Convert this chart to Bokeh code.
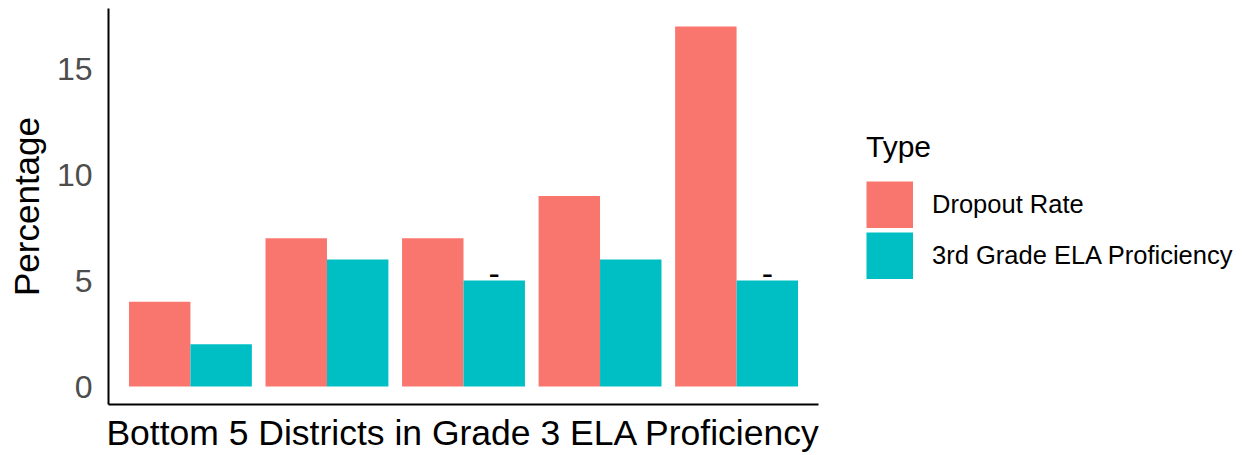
from bokeh.plotting import figure
from bokeh.layouts import row
from bokeh.models import (ColumnDataSource, FactorRange, Range1d, Legend, LegendItem,
                          FixedTicker)
from bokeh.transform import dodge
from bokeh.core.properties import value
from bokeh.embed import file_html
from bokeh.resources import INLINE

districts = ["District A", "District B", "District C", "District D", "District E"]
dropout_rate = [4, 7, 7, 9, 17]
ela_proficiency = [2, 6, 5, 6, 5]
ela_labels = ["", "", "-", "", "-"]
series_names = ["Dropout Rate", "3rd Grade ELA Proficiency"]
colors = ["#F8766D", "#00BFC4"]
y_ticks = [0, 5, 10, 15]

FONT = "Liberation Sans"
H = 455

source = ColumnDataSource(data=dict(district=districts, dropout=dropout_rate,
                                    ela=ela_proficiency, ela_label=ela_labels))

p = figure(width=826, height=H, output_backend="svg", toolbar_location=None,
           x_range=FactorRange(factors=districts, range_padding=0.1,
                               range_padding_units="absolute"),
           y_range=Range1d(-0.85, 17.85),
           min_border_left=108, min_border_top=8, min_border_bottom=0,
           min_border_right=8)

r1 = p.vbar(x=dodge("district", -0.225, range=p.x_range), top="dropout", bottom=0,
            width=0.45, source=source, fill_color=colors[0], line_color=None)
r2 = p.vbar(x=dodge("district", 0.225, range=p.x_range), top="ela", bottom=0,
            width=0.45, source=source, fill_color=colors[1], line_color=None)
p.text(x=dodge("district", 0.225, range=p.x_range), y="ela", text="ela_label",
       source=source, text_align="center", text_baseline="middle", y_offset=-7,
       text_font=value(FONT), text_font_size="34px", text_color="black")

p.outline_line_color = None
p.background_fill_color = "white"
p.border_fill_color = "white"
p.xgrid.visible = False
p.ygrid.visible = False

yax = p.yaxis[0]
yax.ticker = FixedTicker(ticks=y_ticks)
yax.minor_tick_line_color = None
yax.major_tick_line_color = None
yax.major_tick_out = 0
yax.major_tick_in = 0
yax.axis_line_width = 2
yax.axis_line_color = "black"
yax.major_label_text_font = FONT
yax.major_label_text_font_size = "32px"
yax.major_label_text_color = "#4D4D4D"
yax.major_label_standoff = 16
yax.axis_label = "Percentage"
yax.axis_label_text_font = FONT
yax.axis_label_text_font_size = "35px"
yax.axis_label_text_font_style = "normal"
yax.axis_label_text_color = "black"
yax.axis_label_standoff = 8

xax = p.xaxis[0]
xax.major_tick_line_color = None
xax.minor_tick_line_color = None
xax.major_tick_out = 0
xax.major_tick_in = 0
xax.major_label_text_font_size = "0px"
xax.major_label_standoff = 0
xax.axis_line_width = 2
xax.axis_line_color = "black"
xax.axis_label = "Bottom 5 Districts in Grade 3 ELA Proficiency"
xax.axis_label_text_font = FONT
xax.axis_label_text_font_size = "35.5px"
xax.axis_label_text_font_style = "normal"
xax.axis_label_text_color = "black"
xax.axis_label_standoff = 8

# legend panel: swatches are drawn by hidden thick-line renderers of the same data
lf = figure(width=1242 - 826, height=H, output_backend="svg", toolbar_location=None,
            x_range=Range1d(0, 1), y_range=Range1d(0, 1),
            x_axis_type=None, y_axis_type=None, min_border=0)
lf.outline_line_color = None
lf.xgrid.visible = False
lf.ygrid.visible = False
lr1 = lf.line(x="dropout", y="dropout", source=source, line_color=colors[0],
              line_width=47, line_cap="butt", visible=False)
lr2 = lf.line(x="ela", y="ela", source=source, line_color=colors[1],
              line_width=47, line_cap="butt", visible=False)

legend = Legend(items=[LegendItem(label=series_names[0], renderers=[lr1]),
                       LegendItem(label=series_names[1], renderers=[lr2])],
                location=(40, 125), title="Type",
                title_text_font=FONT, title_text_font_size="30px",
                title_text_font_style="normal", title_standoff=17,
                title_text_color="black",
                label_text_font=FONT, label_text_font_size="25.5px",
                label_text_color="black",
                glyph_width=47, glyph_height=47, spacing=4, label_standoff=19,
                padding=0, margin=0, border_line_color=None,
                background_fill_alpha=0, inactive_fill_alpha=0)
lf.add_layout(legend, "center")

layout = row(p, lf, spacing=0)
open("out.html", "w").write(file_html(layout, INLINE))
